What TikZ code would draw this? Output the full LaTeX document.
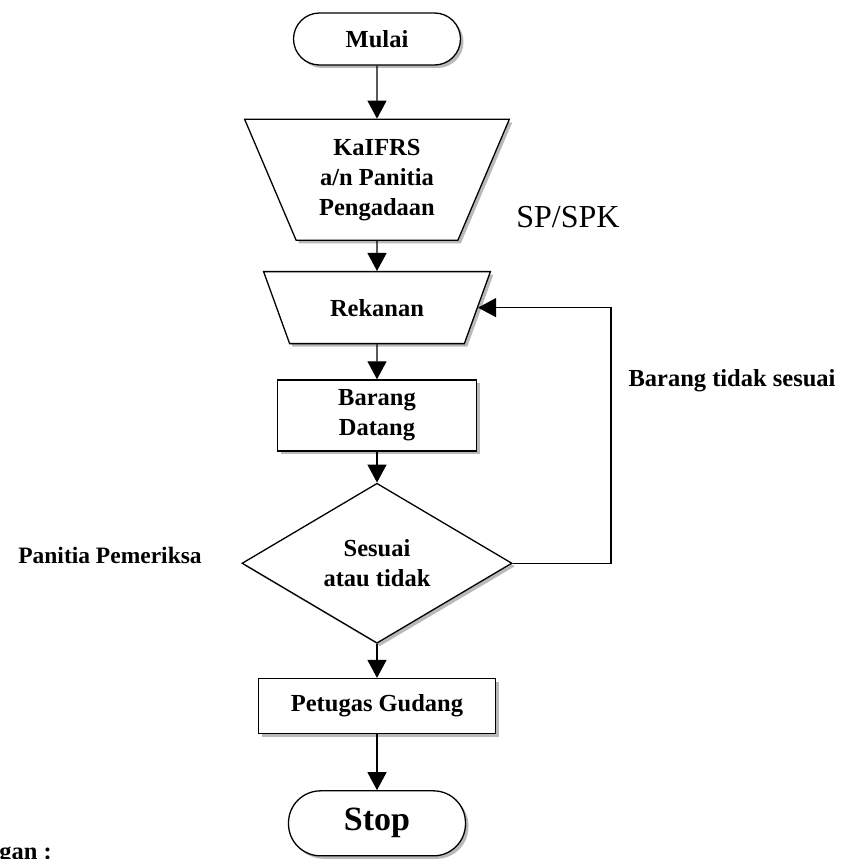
\documentclass[tikz,border=0pt]{standalone}
\usepackage{fontspec}
\setmainfont{Liberation Serif}
\usepackage{tikz}
\usetikzlibrary{arrows.meta,positioning,shapes.geometric,shadows}

\begin{document}
\begin{tikzpicture}[x=1pt, y=1pt, >={Triangle[length=18pt,width=19pt]},
  every node/.style={font=\bfseries\fontsize{24.5}{30}\selectfont, align=center},
  bayang/.style={drop shadow={shadow xshift=3pt, shadow yshift=-3pt, opacity=1, fill=gray!55}},
  garis/.style={line width=1.3pt},
  terminal/.style={draw, garis, fill=white, bayang, rectangle, minimum width=167pt, minimum height=52pt, rounded corners=26pt},
  manual/.style={draw, garis, fill=white, bayang, trapezium, shape border rotate=180, trapezium stretches=true, inner sep=2pt},
  proses/.style={draw, garis, fill=white, bayang, rectangle},
  keputusan/.style={draw, garis, fill=white, bayang, diamond, aspect=1.7, inner sep=0pt, minimum width=270pt, minimum height=160pt}]
  \useasboundingbox (0,0) rectangle (845,-859);
  \node[terminal] (mulai) at (377,-39) {Mulai};
  \node[manual, trapezium left angle=66, trapezium right angle=66, minimum width=265pt, minimum height=121pt, below=53pt of mulai] (kaifrs) {KaIFRS\\a/n Panitia\\Pengadaan};
  \node[manual, trapezium left angle=55.5, trapezium right angle=55.5, minimum width=227pt, minimum height=72pt, below=30pt of kaifrs] (rek) {Rekanan};
  \node[proses, minimum width=199pt, minimum height=71pt, below=35pt of rek] (datang) {Barang\\Datang};
  \node[keputusan, below=31pt of datang] (cek) {Sesuai\\atau tidak};
  \node[proses, minimum width=237pt, minimum height=55pt, below=34pt of cek] (gudang) {Petugas Gudang};
  \node[terminal, minimum width=177pt, minimum height=65pt, rounded corners=32pt, font=\bfseries\fontsize{34}{40}\selectfont, below=56pt of gudang] (stop) {Stop};
  \coordinate[right=133pt of rek.east] (balik);
  % keterangan
  \node (spspk) at (568,-217) [font=\fontsize{32}{38}\selectfont] {SP/SPK};
  \node (tdksesuai) at (732,-381) {Barang tidak sesuai};
  \node (pemeriksa) at (110,-555) [font=\bfseries\fontsize{23.5}{28}\selectfont] {Panitia Pemeriksa};
  \node (ket) at (52,-843) [anchor=north east, inner sep=0pt] {Keterangan :};
  \draw[->, garis] (mulai) -- (kaifrs);
  \draw[->, garis] (kaifrs) -- (rek);
  \draw[->, garis] (rek) -- (datang);
  \draw[->, garis] (datang) -- (cek);
  \draw[->, garis] (cek) -- (gudang);
  \draw[->, garis] (gudang) -- (stop);
  \draw[->, garis] (cek.east) -| (balik) |- (rek.east);
\end{tikzpicture}
\end{document}
